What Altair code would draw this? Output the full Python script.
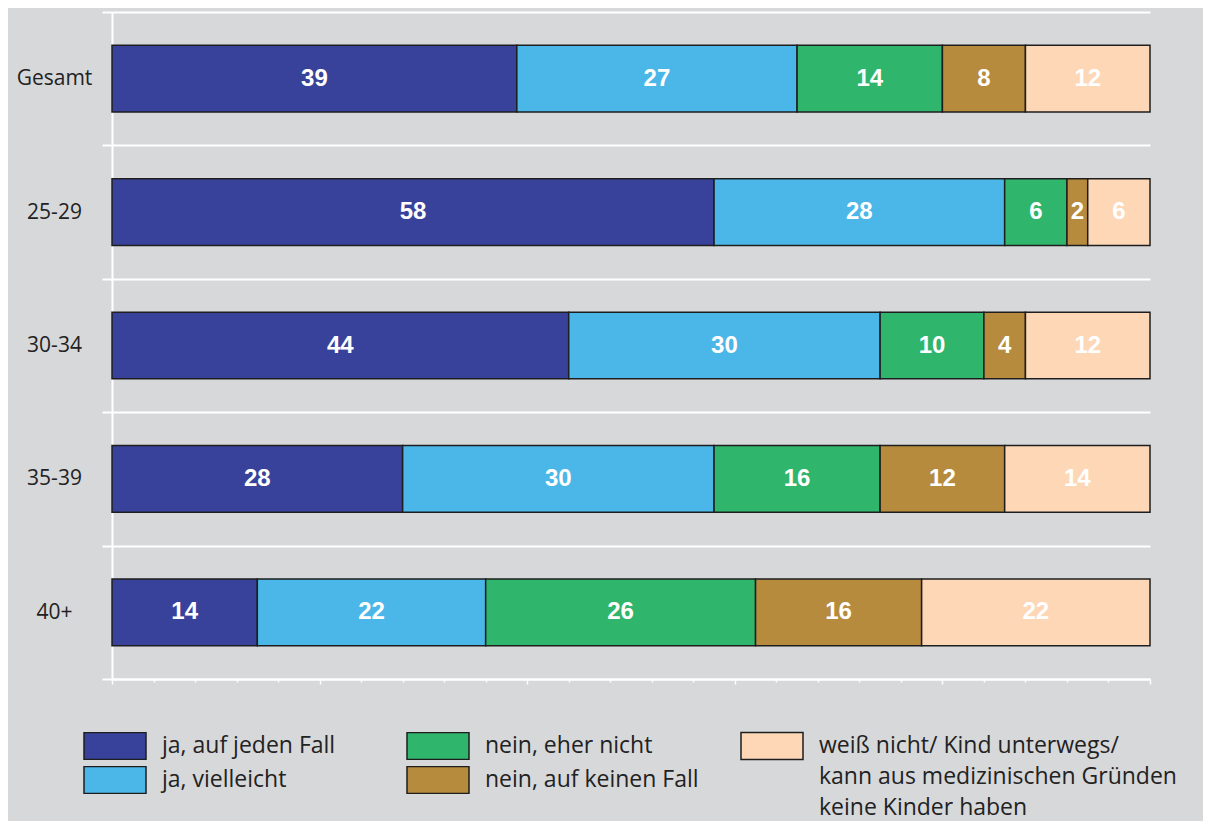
import altair as alt
import pandas as pd

groups = ["Gesamt", "25-29", "30-34", "35-39", "40+"]
answers = [
    "ja, auf jeden Fall",
    "ja, vielleicht",
    "nein, eher nicht",
    "nein, auf keinen Fall",
    "weiß nicht/ Kind unterwegs/",
]
# continuation lines of the last legend label
answer_extra_lines = ["kann aus medizinischen Gründen", "keine Kinder haben"]
colors = ["#38429a", "#4bb7e8", "#30b56d", "#b78b3d", "#fed7b7"]

ja_jeden = [39, 58, 44, 28, 14]
ja_vielleicht = [27, 28, 30, 30, 22]
nein_eher = [14, 6, 10, 16, 26]
nein_keinen = [8, 2, 4, 12, 16]
weiss_nicht = [12, 6, 12, 14, 22]

series = [ja_jeden, ja_vielleicht, nein_eher, nein_keinen, weiss_nicht]
rows = []
for k, (ans, vals) in enumerate(zip(answers, series)):
    for g, v in zip(groups, vals):
        rows.append({"group": g, "answer": ans, "value": v, "order": k})
df = pd.DataFrame(rows)

LABEL_FONT = "Open Sans"
STROKE = "#1e1e1e"
rect_path = "M-1,-0.435H1V0.435H-1Z"

y_enc = alt.Y(
    "group:N",
    sort=groups,
    scale=alt.Scale(paddingInner=0, paddingOuter=0),
    axis=alt.Axis(
        title=None,
        domainColor="white",
        domainWidth=2,
        tickColor="white",
        tickWidth=2,
        tickSize=10,
        tickBand="extent",
        grid=True,
        gridColor="white",
        gridWidth=2,
        labelAlign="center",
        labelPadding=48,
        labelFont=LABEL_FONT,
        labelFontSize=21,
        labelColor="#222222",
    ),
)

x_enc = alt.X(
    "x0:Q",
    scale=alt.Scale(domain=[0, 100], nice=False),
    axis=alt.Axis(
        title=None,
        labels=False,
        values=list(range(0, 101, 2)),
        domainColor="white",
        domainWidth=2,
        tickColor="white",
        tickWidth=1.5,
        tickSize={"condition": {"test": "datum.value % 10 === 0", "value": 5}, "value": 3},
        grid=False,
    ),
)

bars_main = (
    alt.Chart()
    .transform_filter("datum.order < 4")
    .mark_bar(height={"band": 0.5}, stroke=STROKE, strokeWidth=1.5)
    .encode(
        y=y_enc,
        x=x_enc,
        x2="x1:Q",
        color=alt.Color(
            "answer:N",
            scale=alt.Scale(domain=answers[:4], range=colors[:4]),
            legend=alt.Legend(
                title=None,
                orient="none",
                legendX=-29,
                legendY=720,
                columns=2,
                columnPadding=70,
                rowPadding=6,
                clipHeight=28,
                padding=0,
                symbolType=rect_path,
                symbolSize=3844,
                symbolStrokeColor=STROKE,
                symbolStrokeWidth=1.5,
                symbolOpacity=1,
                labelOffset=15,
                labelFont=LABEL_FONT,
                labelFontSize=23,
                labelColor="#222222",
                labelLimit=400,
            ),
        ),
    )
)

first_line = answers[4]
bars_other = (
    alt.Chart()
    .transform_filter("datum.order == 4")
    .mark_bar(height={"band": 0.5}, stroke=STROKE, strokeWidth=1.5)
    .encode(
        y=y_enc,
        x=x_enc,
        x2="x1:Q",
        fill=alt.Fill(
            "answer:N",
            scale=alt.Scale(
                domain=[first_line] + answer_extra_lines,
                range=[colors[4], colors[4], colors[4]],
            ),
            legend=alt.Legend(
                title=None,
                orient="none",
                legendX=628,
                legendY=719,
                padding=0,
                rowPadding=1,
                clipHeight=30,
                symbolType=rect_path,
                symbolSize=3844,
                symbolStrokeColor=STROKE,
                symbolStrokeWidth=1.5,
                symbolOpacity={"expr": "datum.value === '%s' ? 1 : 0" % first_line},
                labelOffset=15,
                labelFont=LABEL_FONT,
                labelFontSize=23,
                labelColor="#222222",
                labelLimit=500,
            ),
        ),
    )
)

labels = (
    alt.Chart()
    .mark_text(
        font="Liberation Sans",
        fontWeight="bold",
        fontSize=24,
        color="white",
        baseline="middle",
        align="center",
    )
    .encode(y=y_enc, x=alt.X("mid:Q"), text="value:Q")
)

chart = (
    alt.layer(bars_main, bars_other, labels, data=df)
    .transform_stack(
        stack="value",
        as_=["x0", "x1"],
        groupby=["group"],
        sort=[alt.SortField("order", order="ascending")],
    )
    .transform_calculate(mid="(datum.x0 + datum.x1) / 2")
    .properties(
        width=1038,
        height=667,
        autosize=alt.AutoSizeParams(type="none"),
        padding={"left": 104, "top": 4, "right": 53, "bottom": 142},
        background="#d7d8da",
    )
    .configure_view(stroke=None)
)

chart.save("out.html", embed_options={"renderer": "svg", "actions": False})
